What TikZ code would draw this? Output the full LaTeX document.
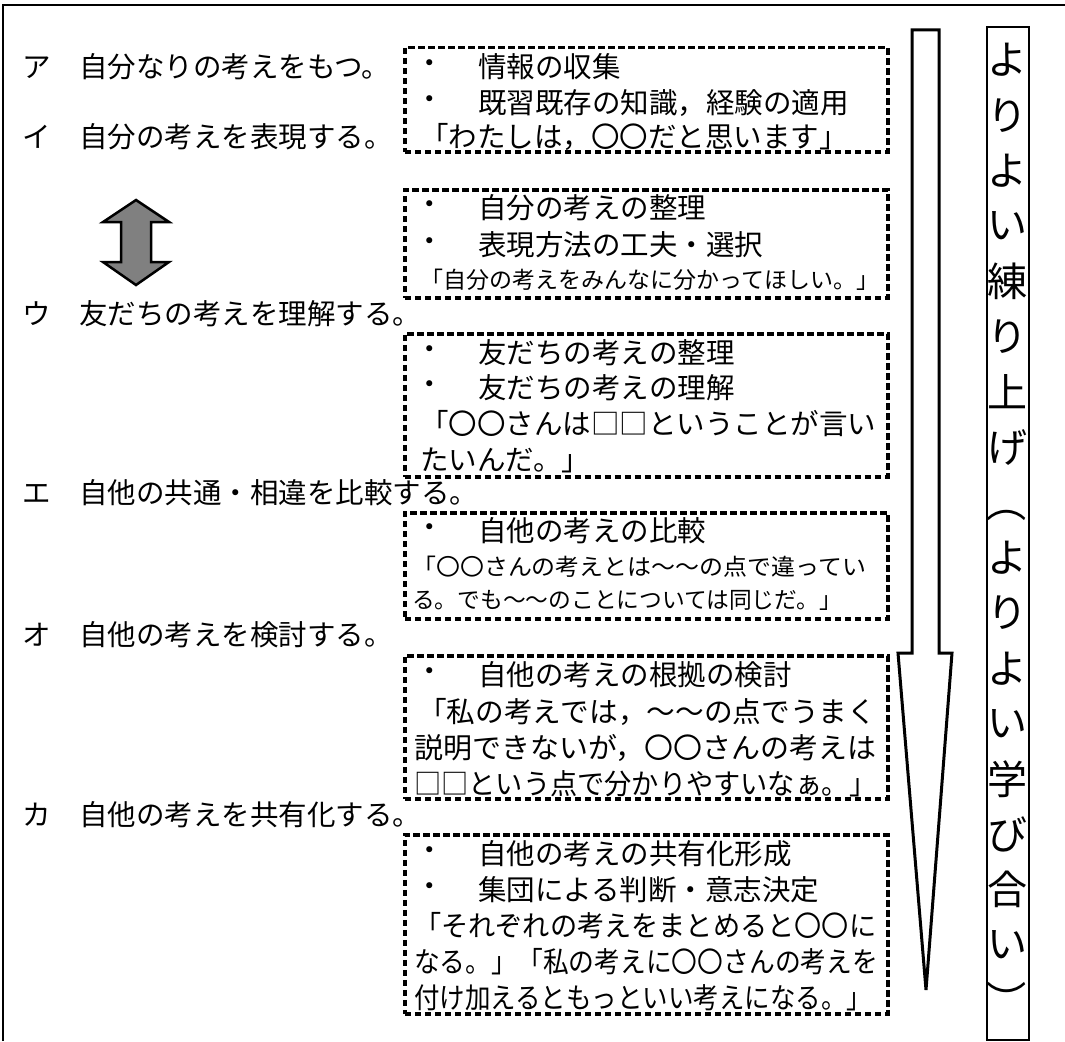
\documentclass[tikz,border=0pt]{standalone}
\usepackage{fontspec}
\setmainfont{Noto Sans CJK JP}
\usepackage{graphicx}
\newcommand\fl[2]{\resizebox{#1pt}{\height}{#2}}
\begin{document}
\begin{tikzpicture}[x=1pt,y=-1pt,
  frame/.style={line width=2pt},
  dbox/.style={draw, line width=3.5pt, dash pattern=on 6.5pt off 3.5pt, minimum width=483pt, anchor=north west, inner sep=0pt},
  tx/.style={anchor=west, inner sep=0pt, font=\fontsize{28.5}{30}\selectfont},
  sm/.style={anchor=west, inner sep=0pt, font=\fontsize{23}{25}\selectfont},
  bul/.style={inner sep=0pt, font=\fontsize{28.5}{30}\selectfont},
  vt/.style={inner sep=0pt, font=\fontsize{40}{42}\selectfont}]
\useasboundingbox (0,0) rectangle (1065,1041);
\draw[frame] (3,1041) -- (3,5) -- (1065,5);

% left labels
\node[tx] (la) at (22,67)  {ア　自分なりの考えをもつ。};
\node[tx] (lb) at (22,137) {イ　自分の考えを表現する。};
\node[tx] (lc) at (22,314) {ウ　友だちの考えを理解する。};
\node[tx] (ld) at (22,493) {エ　自他の共通・相違を比較する。};
\node[tx] (le) at (22,635) {オ　自他の考えを検討する。};
\node[tx] (lf) at (22,815) {カ　自他の考えを共有化する。};

% double arrow
\draw[line width=2.5pt, fill=gray, line join=miter]
  (136,200) -- (169,222) -- (151,222) -- (151,262) -- (169,262) -- (136,285)
  -- (103,262) -- (121,262) -- (121,222) -- (103,222) -- cycle;

% boxes
\node[dbox, minimum height=104pt] (b1) at (403,46) {};
\node[dbox, minimum height=108pt] (b2) at (403,188) {};
\node[dbox, minimum height=143pt] (b3) at (403,332) {};
\node[dbox, minimum height=106pt] (b4) at (403,511) {};
\node[dbox, minimum height=143pt] (b5) at (403,654) {};
\node[dbox, minimum height=179pt] (b6) at (403,833) {};

% box 1
\node[bul] (d11) at (430,67) {・};
\node[tx] (t11) at (478,67) {情報の収集};
\node[bul] (d12) at (430,103) {・};
\node[tx] (t12) at (478,103) {既習既存の知識，経験の適用};
\node[tx] (t13) at (420,137) {「わたしは，〇〇だと思います」};
% box 2
\node[bul] (d21) at (430,208) {・};
\node[tx] (t21) at (478,208) {自分の考えの整理};
\node[bul] (d22) at (430,245) {・};
\node[tx] (t22) at (478,245) {表現方法の工夫・選択};
\node[sm] (t23) at (420,280) {「自分の考えをみんなに分かってほしい。」};
% box 3
\node[bul] (d31) at (430,353) {・};
\node[tx] (t31) at (478,353) {友だちの考えの整理};
\node[bul] (d32) at (430,388) {・};
\node[tx] (t32) at (478,388) {友だちの考えの理解};
\node[tx] (t33) at (420,424) {「〇〇さんは□□ということが言い};
\node[tx] (t34) at (420,460) {たいんだ。」};
% box 4
\node[bul] (d41) at (430,531) {・};
\node[tx] (t41) at (478,531) {自他の考えの比較};
\node[sm] (t42) at (412,567) {\fl{454}{「〇〇さんの考えとは〜〜の点で違ってい}};
\node[sm] (t43) at (412,600) {\fl{430}{る。でも〜〜のことについては同じだ。」}};
% box 5
\node[bul] (d51) at (430,675) {・};
\node[tx] (t51) at (478,675) {自他の考えの根拠の検討};
\node[tx] (t52) at (418,712) {\fl{458}{「私の考えでは，〜〜の点でうまく}};
\node[tx] (t53) at (414,748) {\fl{462}{説明できないが，〇〇さんの考えは}};
\node[tx] (t54) at (414,784) {\fl{462}{□□という点で分かりやすいなぁ。」}};
% box 6
\node[bul] (d61) at (430,854) {・};
\node[tx] (t61) at (478,854) {自他の考えの共有化形成};
\node[bul] (d62) at (430,890) {・};
\node[tx] (t62) at (478,890) {集団による判断・意志決定};
\node[tx] (t63) at (414,926) {\fl{462}{「それぞれの考えをまとめると〇〇に}};
\node[tx] (t64) at (414,962) {\fl{464}{なる。」「私の考えに〇〇さんの考えを}};
\node[tx] (t65) at (414,998) {\fl{458}{付け加えるともっといい考えになる。」}};

% big down arrow
\draw[line width=3pt, fill=white, line join=miter]
  (912,30) -- (939,30) -- (939,653) -- (952,653) -- (926,990) -- (898,653) -- (912,653) -- cycle;

% vertical label
\node[draw, line width=2pt, minimum width=42pt, minimum height=1013pt, anchor=north west, inner sep=0pt] (lbl) at (986,26) {};
\foreach \c [count=\i from 0] in {よ,り,よ,い,練,り,上,げ,{\rotatebox[origin=c]{-90}{（}},よ,り,よ,い,学,び,合,い,{\rotatebox[origin=c]{-90}{）}}}
  \node[vt] (v\i) at (1007,{60+55.3*\i}) {\c};
\end{tikzpicture}
\end{document}
